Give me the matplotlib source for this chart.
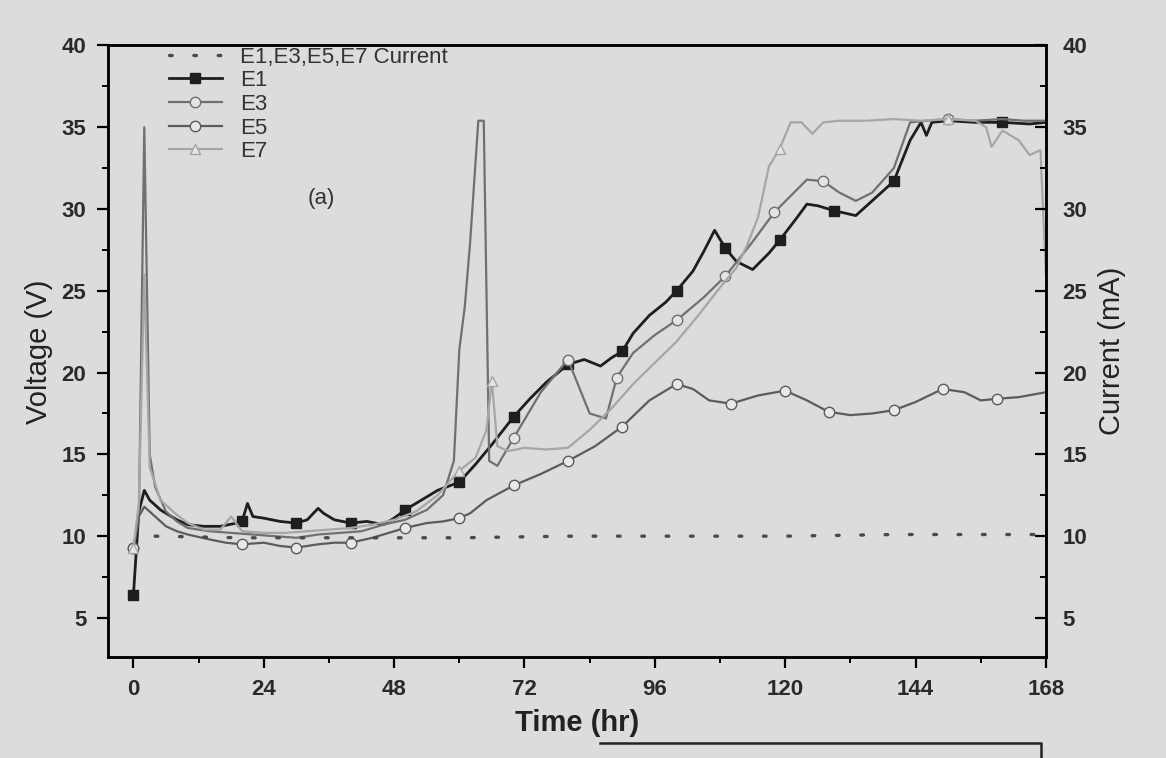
import matplotlib
matplotlib.use('Agg')
import matplotlib.pyplot as plt
from matplotlib.lines import Line2D
from matplotlib.ticker import MultipleLocator

# --- data (time in hr, voltage in V, current in mA) ---
e1_t = [0, 1, 2, 3, 5, 8, 10, 13, 16, 19, 20, 21, 22, 24, 27, 30, 32, 34, 35, 37,
        40, 43, 46, 48, 50, 53, 56, 60, 63, 66, 70, 73, 76, 80, 83, 86, 88, 90, 92, 95,
        98, 100, 103, 105, 107, 109, 111, 114, 117, 119, 122, 124, 126, 129, 133, 136,
        140, 143, 145, 146, 147, 150, 155, 160, 165, 168]
e1_v = [6.4, 11.5, 12.8, 12.2, 11.6, 11.0, 10.7, 10.6, 10.6, 10.8, 10.9, 12.0, 11.2,
        11.1, 10.9, 10.8, 11.0, 11.7, 11.4, 11.0, 10.8, 10.9, 10.7, 11.1, 11.6, 12.2,
        12.8, 13.3, 14.4, 15.6, 17.3, 18.4, 19.4, 20.5, 20.8, 20.4, 20.9, 21.3, 22.4,
        23.5, 24.3, 25.0, 26.2, 27.4, 28.7, 27.6, 26.8, 26.3, 27.3, 28.1, 29.4, 30.3,
        30.2, 29.9, 29.6, 30.5, 31.7, 34.2, 35.3, 34.5, 35.3, 35.4, 35.3, 35.3, 35.2, 35.3]
e1_marks = [0, 20, 30, 40, 50, 60, 70, 80, 90, 100, 109, 119, 129, 140, 160]

e3_t = [0, 1, 2, 3, 4, 6, 8, 10, 14, 18, 22, 26, 30, 34, 38, 42, 46, 50, 54, 57,
        59, 60, 61, 62, 63.5, 64.5, 65.5, 67, 70, 75, 80, 84, 87, 89, 92, 96, 100, 105,
        109, 114, 118, 121, 124, 127, 130, 133, 136, 140, 143, 146, 150, 155, 160, 164, 168]
e3_v = [9.3, 11.0, 35.0, 15.0, 13.0, 11.5, 10.9, 10.5, 10.3, 10.2, 10.1, 10.0, 9.9,
        10.1, 10.2, 10.3, 10.7, 11.0, 11.6, 12.5, 14.6, 21.4, 24.0, 28.0, 35.4, 35.4,
        14.6, 14.3, 16.0, 18.8, 20.8, 17.5, 17.2, 19.7, 21.2, 22.3, 23.2, 24.6, 25.9,
        28.0, 29.8, 30.8, 31.8, 31.7, 31.0, 30.5, 31.0, 32.5, 35.3, 35.4, 35.5, 35.4,
        35.5, 35.4, 35.4]
e3_marks = [0, 70, 80, 89, 100, 109, 118, 127, 150]

e5_t = [0, 1, 2, 4, 6, 8, 10, 14, 17, 20, 24, 27, 30, 34, 37, 40, 44, 47, 50, 54,
        57, 60, 62, 65, 70, 75, 80, 85, 90, 95, 100, 103, 106, 110, 115, 120, 124, 128,
        132, 136, 140, 144, 149, 153, 156, 159, 163, 168]
e5_v = [9.3, 11.2, 11.8, 11.2, 10.6, 10.3, 10.1, 9.8, 9.6, 9.5, 9.6, 9.4, 9.3, 9.5,
        9.6, 9.6, 9.9, 10.2, 10.5, 10.8, 10.9, 11.1, 11.4, 12.2, 13.1, 13.8, 14.6, 15.5,
        16.7, 18.3, 19.3, 19.0, 18.3, 18.1, 18.6, 18.9, 18.3, 17.6, 17.4, 17.5, 17.7,
        18.2, 19.0, 18.8, 18.3, 18.4, 18.5, 18.8]
e5_marks = [0, 20, 30, 40, 50, 60, 70, 80, 90, 100, 110, 120, 128, 140, 149, 159]

e7_t = [0, 1, 2, 3, 5, 8, 10, 13, 16, 18, 20, 24, 28, 32, 36, 40, 44, 48, 52, 56,
        60, 63, 65, 66, 67, 69, 72, 76, 80, 84, 88, 92, 96, 100, 104, 108, 111, 113,
        115, 117, 119, 121, 123, 125, 127, 130, 135, 140, 145, 150, 155, 157, 158, 160,
        163, 165, 167, 168]
e7_v = [9.3, 12.0, 26.0, 14.2, 12.2, 11.3, 10.8, 10.4, 10.4, 11.2, 10.3, 10.2, 10.2,
        10.3, 10.4, 10.5, 10.7, 11.0, 11.5, 12.5, 14.0, 14.8, 16.5, 19.5, 15.5, 15.2,
        15.4, 15.3, 15.4, 16.5, 17.8, 19.3, 20.6, 21.9, 23.5, 25.2, 26.4, 27.8, 29.5,
        32.6, 33.7, 35.3, 35.3, 34.6, 35.3, 35.4, 35.4, 35.5, 35.4, 35.5, 35.4, 35.0,
        33.8, 34.8, 34.2, 33.3, 33.6, 26.0]
e7_marks = [0, 60, 66, 119, 150]

current_t = [4, 20, 40, 60, 80, 100, 120, 140, 160, 166]
current_ma = [10.0, 9.9, 9.9, 9.9, 10.0, 10.0, 10.0, 10.1, 10.1, 10.1]

plt.rcParams['font.family'] = ['Liberation Sans', 'DejaVu Sans']
bg = '#dcdcdc'


def marks_for(times, marks):
    return [i for i, t in enumerate(times) if t in marks]


fig = plt.figure(figsize=(11.66, 7.58), dpi=100, facecolor=bg)
ax = fig.add_axes([0.093, 0.133, 0.804, 0.807])
ax.set_facecolor(bg)
ax2 = ax.twinx()

styles = [
    ('E1', e1_t, e1_v, e1_marks, '#1e1e1e', 's', '#1e1e1e', 2.0),
    ('E3', e3_t, e3_v, e3_marks, '#707070', 'o', '#e4e4e4', 1.6),
    ('E5', e5_t, e5_v, e5_marks, '#5c5c5c', 'o', '#e8e8e8', 1.6),
    ('E7', e7_t, e7_v, e7_marks, '#a6a6a6', '^', '#e6e6e6', 1.6),
]

cur, = ax2.plot(current_t, current_ma, color='#4a4a4a', lw=2.4,
                linestyle=(0, (0.8, 6.5)), dash_capstyle='round',
                label='E1,E3,E5,E7 Current')

handles = [cur]
for name, t, v, mk, col, m, fc, lw in styles:
    h, = ax.plot(t, v, color=col, lw=lw, marker=m, ms=7.5, mfc=fc, mec=col,
                 mew=1.0, markevery=marks_for(t, mk), label=name)
    handles.append(h)

for a in (ax, ax2):
    a.set_xlim(-4.6, 168)
    a.set_ylim(2.6, 40)
    for s in a.spines.values():
        s.set_linewidth(1.8)

ax.xaxis.set_major_locator(MultipleLocator(24))
ax.xaxis.set_minor_locator(MultipleLocator(12))
ax.yaxis.set_major_locator(MultipleLocator(5))
ax.yaxis.set_minor_locator(MultipleLocator(2.5))
ax2.yaxis.set_major_locator(MultipleLocator(5))
ax2.yaxis.set_minor_locator(MultipleLocator(2.5))

ax.tick_params(axis='both', which='major', direction='out', length=8, width=1.6,
               labelsize=16, pad=8)
ax.tick_params(axis='both', which='minor', direction='out', length=4, width=1.4)
ax2.tick_params(axis='y', which='major', direction='in', length=8, width=1.6,
                labelsize=16, pad=12)
ax2.tick_params(axis='y', which='minor', direction='in', length=4, width=1.4)
for lab in ax.get_xticklabels() + ax.get_yticklabels() + ax2.get_yticklabels():
    lab.set_fontweight('bold')
    lab.set_color('#2a2a2a')

ax.set_xlabel('Time (hr)', fontsize=21, fontweight='bold', color='#222222', labelpad=6)
ax.set_ylabel('Voltage (V)', fontsize=21, color='#222222', labelpad=6)
ax2.set_ylabel('Current (mA)', fontsize=21, color='#222222', labelpad=8)

leg = ax.legend(handles=handles, loc='upper left', bbox_to_anchor=(0.05, 1.02),
                frameon=False, fontsize=16, handlelength=2.4, labelspacing=0.12,
                handletextpad=0.8, borderaxespad=0.2)
for txt in leg.get_texts():
    txt.set_color('#333333')

ax.text(32, 30.3, '(a)', fontsize=16, color='#333333')

# top edge of the next panel, cut off at the bottom of the page
fig.add_artist(Line2D([0.515, 0.893, 0.893], [0.02, 0.02, 0.0],
                      transform=fig.transFigure, color='#222222', lw=1.8))

fig.savefig('out.png', dpi=100, facecolor=bg)
